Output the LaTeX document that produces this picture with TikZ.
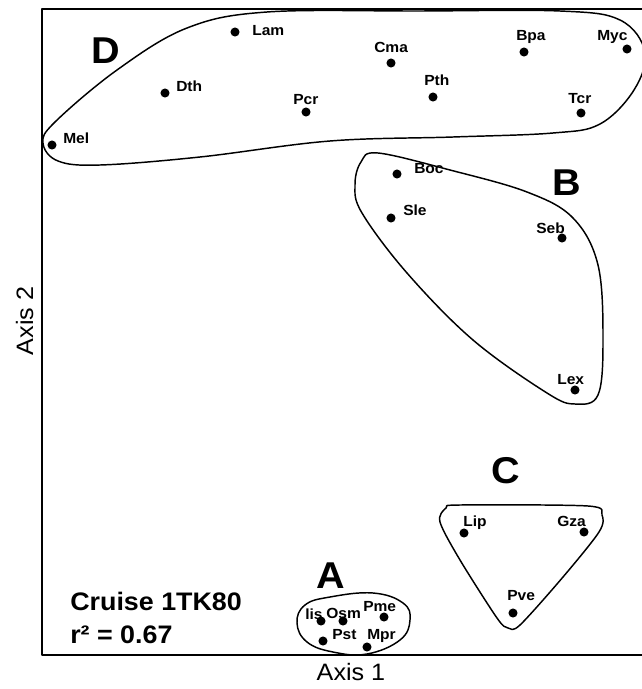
\documentclass[tikz,border=0pt]{standalone}
\usepackage{fontspec}
\setmainfont{Liberation Sans}[FakeStretch=1.06]
\usepackage{tikz}

\begin{document}
\begin{tikzpicture}[line cap=round,line join=round,x=0.75pt,y=-0.75pt,
  dot/.style={circle,fill=black,inner sep=0pt,minimum size=6.8pt},
  sp/.style={inner sep=0pt,font=\bfseries\fontsize{11}{12}\selectfont},
  grp/.style={inner sep=0pt,anchor=base west,font=\bfseries\fontsize{28}{30}\selectfont},
  hull/.style={line width=1.1pt}]
\useasboundingbox (0,0) rectangle (642,689);
\draw [line width=2.2pt] (642,9)--(42,9)--(42,655)--(642,655);
\node[inner sep=0pt,anchor=base,font=\fontsize{17.8}{20}\selectfont] (ax1) at (351,680) {Axis 1};
\node[inner sep=0pt,anchor=base,rotate=90,font=\fontsize{17.8}{20}\selectfont] (ax2) at (33,321) {Axis 2};
\node[inner sep=0pt,anchor=base west,font=\bfseries\fontsize{19}{22}\selectfont] (cruise) at (70,610) {Cruise 1TK80};
\node[inner sep=0pt,anchor=base west,font=\bfseries\fontsize{19}{22}\selectfont] (rsq) at (70,643) {r² = 0.67};
\node[grp] (grpD) at (91,63) {D};
\node[grp] (grpB) at (552,195) {B};
\node[grp] (grpC) at (491,483) {C};
\node[grp] (grpA) at (316,588) {A};
\draw[hull] plot[smooth cycle,tension=0.6] coordinates {(43,143) (55,122) (117,70) (187,28) (267,12) (420,11) (560,11) (620,20) (645,52) (634,90) (600,124) (553,133) (453,137) (330,141) (200,157) (100,165) (58,161)};
\draw[hull] plot[smooth cycle,tension=0.6] coordinates {(355,185) (361,162) (378,153) (450,170) (527,192) (573,218) (598,265) (603,340) (598,395) (575,404) (547,393) (473,340) (407,273) (362,213)};
\draw[hull] plot[smooth cycle,tension=0.5] coordinates {(440,522) (446,508) (460,505) (588,506) (602,515) (599,532) (563,577) (520,625) (508,628) (497,618) (460,560)};
\draw[hull] plot[smooth cycle,tension=0.7] coordinates {(297,623) (305,605) (330,597) (373,593) (403,603) (410,620) (400,640) (367,654) (333,652) (307,642)};
\node[dot] (lam) at (235,32) {};
\node[sp,anchor=base west] (lamL) at (252,35) {Lam};
\node[dot] (dth) at (165,93) {};
\node[sp,anchor=base west] (dthL) at (176,91) {Dth};
\node[dot] (pcr) at (306,112) {};
\node[sp,anchor=base west] (pcrL) at (293,104) {Pcr};
\node[dot] (mel) at (52,145) {};
\node[sp,anchor=base west] (melL) at (63,143) {Mel};
\node[dot] (cma) at (391,63) {};
\node[sp,anchor=base west] (cmaL) at (374,52) {Cma};
\node[dot] (pth) at (433,97) {};
\node[sp,anchor=base west] (pthL) at (424,85) {Pth};
\node[dot] (bpa) at (524,52) {};
\node[sp,anchor=base west] (bpaL) at (516,40) {Bpa};
\node[dot] (myc) at (627,49) {};
\node[sp,anchor=base west] (mycL) at (597,40) {Myc};
\node[dot] (tcr) at (581,113) {};
\node[sp,anchor=base west] (tcrL) at (568,103) {Tcr};
\node[dot] (boc) at (397,174) {};
\node[sp,anchor=base west] (bocL) at (414,173) {Boc};
\node[dot] (sle) at (391,218) {};
\node[sp,anchor=base west] (sleL) at (403,215) {Sle};
\node[dot] (seb) at (562,238) {};
\node[sp,anchor=base west] (sebL) at (536,233) {Seb};
\node[dot] (lex) at (575,390) {};
\node[sp,anchor=base west] (lexL) at (557,384) {Lex};
\node[dot] (lip) at (464,533) {};
\node[sp,anchor=base west] (lipL) at (463,526) {Lip};
\node[dot] (gza) at (584,532) {};
\node[sp,anchor=base west] (gzaL) at (557,526) {Gza};
\node[dot] (pve) at (513,613) {};
\node[sp,anchor=base west] (pveL) at (507,600) {Pve};
\node[dot] (lis) at (321,621) {};
\node[sp,anchor=base west] (lisL) at (305,619) {lis};
\node[dot] (osm) at (343,621) {};
\node[sp,anchor=base west] (osmL) at (326,618) {Osm};
\node[dot] (pme) at (384,617) {};
\node[sp,anchor=base west] (pmeL) at (363,611) {Pme};
\node[dot] (pst) at (323,641) {};
\node[sp,anchor=base west] (pstL) at (332,639) {Pst};
\node[dot] (mpr) at (367,647) {};
\node[sp,anchor=base west] (mprL) at (367,639) {Mpr};
\end{tikzpicture}
\end{document}
